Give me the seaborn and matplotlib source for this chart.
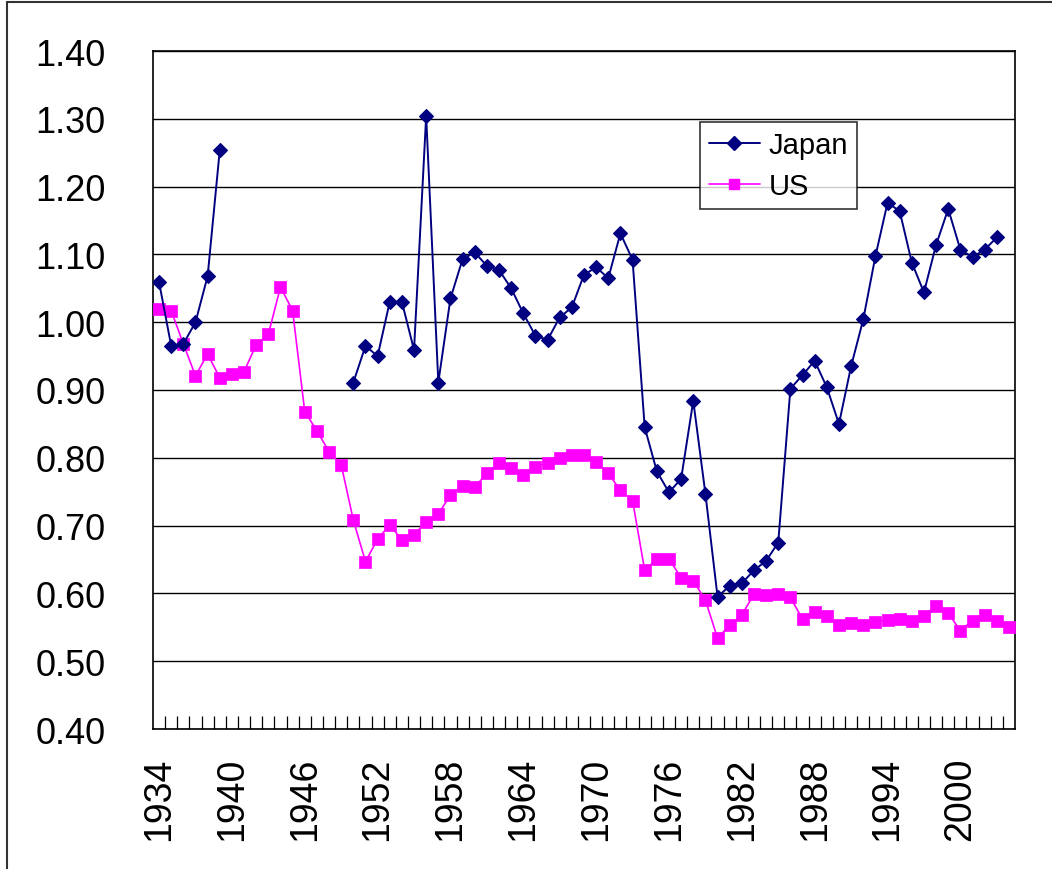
import numpy as np
import pandas as pd
import matplotlib.pyplot as plt
from matplotlib.lines import Line2D
import seaborn as sns

years = list(range(1934, 2005))

japan = ([1.059, 0.965, 0.968, 1.000, 1.068, 1.254]
         + [np.nan] * 10
         + [0.911, 0.965, 0.950, 1.030, 1.030, 0.959, 1.304, 0.911, 1.035, 1.093,
            1.103, 1.083, 1.077, 1.050, 1.013, 0.980, 0.974, 1.007, 1.022, 1.070,
            1.081, 1.065, 1.131, 1.092, 0.845, 0.780, 0.749, 0.769, 0.884, 0.747,
            0.595, 0.611, 0.615, 0.634, 0.648, 0.675, 0.902, 0.922, 0.943, 0.904,
            0.850, 0.935, 1.004, 1.097, 1.176, 1.164, 1.088, 1.044, 1.114, 1.167,
            1.107, 1.096, 1.107, 1.125]
         + [np.nan])

us = [1.019, 1.017, 0.968, 0.921, 0.953, 0.918, 0.923, 0.927, 0.967, 0.982, 1.052, 1.017,
      0.868, 0.840, 0.809, 0.790, 0.708, 0.647, 0.680, 0.701, 0.679, 0.686, 0.706, 0.717,
      0.745, 0.759, 0.757, 0.777, 0.792, 0.785, 0.774, 0.787, 0.792, 0.800, 0.804, 0.804,
      0.794, 0.777, 0.752, 0.737, 0.634, 0.651, 0.651, 0.623, 0.619, 0.590, 0.534, 0.553,
      0.568, 0.599, 0.597, 0.599, 0.594, 0.562, 0.573, 0.567, 0.554, 0.556, 0.554, 0.558,
      0.561, 0.562, 0.560, 0.567, 0.582, 0.571, 0.545, 0.560, 0.568, 0.560, 0.551]

label_years = list(range(1934, 2001, 6))
y_ticks = [0.40, 0.50, 0.60, 0.70, 0.80, 0.90, 1.00, 1.10, 1.20, 1.30, 1.40]

sns.set_style('white')
plt.rcParams['font.family'] = ['Liberation Sans', 'DejaVu Sans']
plt.rcParams['text.color'] = 'black'
plt.rcParams['xtick.color'] = 'black'
plt.rcParams['ytick.color'] = 'black'

jp = pd.DataFrame({'year': years, 'ratio': japan})
# break the Japan line where data is missing
jp['seg'] = jp['ratio'].isna().cumsum()
jp = jp.dropna()
usdf = pd.DataFrame({'year': years, 'ratio': us})

navy = '#000080'
pink = '#FF00FF'

fig = plt.figure(figsize=(10.52, 8.7), dpi=100)
ax = fig.add_axes([153 / 1052, 140 / 870, 862 / 1052, 678 / 870])

sns.lineplot(data=jp, x='year', y='ratio', units='seg', estimator=None,
             color=navy, marker='D', markersize=6.8, mec=navy, mfc=navy, mew=0.8,
             lw=1.4, legend=False, ax=ax, zorder=4)
sns.lineplot(data=usdf, x='year', y='ratio', estimator=None,
             color=pink, marker='s', markersize=8.6, mec=pink, mfc=pink, mew=0.5,
             lw=1.2, legend=False, ax=ax, zorder=3)

ax.set_xlim(1933.5, 2004.5)
ax.set_ylim(0.4, 1.4)
ax.set_yticks(y_ticks)
ax.set_yticklabels([f'{v:.2f}' for v in y_ticks])
ax.set_xticks(label_years)
ax.set_xticklabels([str(y) for y in label_years], rotation=90)
ax.set_xticks(np.arange(1934.5, 2004, 1), minor=True)
ax.tick_params(axis='y', length=0, pad=34, labelsize=26, labelcolor='black')
ax.tick_params(axis='x', which='major', length=0, pad=20, labelsize=27, labelcolor='black')
ax.tick_params(axis='x', which='minor', bottom=True, direction='in',
               length=9.5, width=0.9, color='black')
ax.grid(axis='y', color='black', lw=1.0)
ax.set_axisbelow(True)
ax.set_xlabel('')
ax.set_ylabel('')
for s in ax.spines.values():
    s.set_color('black')
    s.set_linewidth(1.2)

handles = [Line2D([], [], color=navy, marker='D', markersize=6.8, mfc=navy, mec=navy, lw=1.4),
           Line2D([], [], color=pink, marker='s', markersize=7.5, mfc=pink, mec=pink, lw=1.2)]
leg = fig.legend(handles, ['Japan', 'US'], loc='upper left',
                 bbox_to_anchor=(700 / 1052, 1 - 123 / 870), fontsize=21,
                 frameon=True, fancybox=False, handlelength=1.75, handletextpad=0.3,
                 borderpad=0.3, labelspacing=0.45, borderaxespad=0)
leg.get_frame().set_edgecolor('black')
leg.get_frame().set_linewidth(1.2)
for t in leg.get_texts():
    t.set_color('black')

# chart area border (top and left edges visible)
fig.add_artist(Line2D([7 / 1052, 1], [1 - 3 / 870, 1 - 3 / 870], color='#333333', lw=1.5))
fig.add_artist(Line2D([7 / 1052, 7 / 1052], [0, 1 - 3 / 870], color='#333333', lw=1.5))

fig.savefig('out.png', dpi=100)
